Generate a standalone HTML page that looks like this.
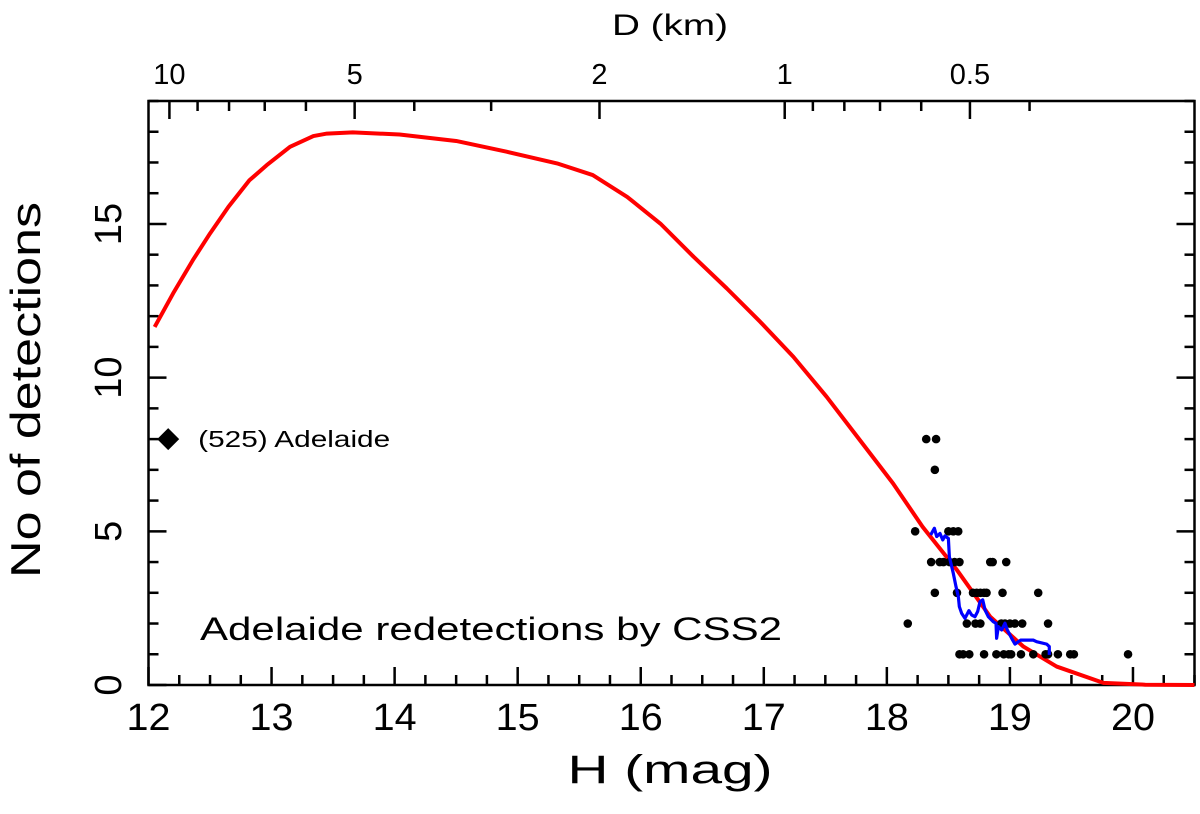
<!DOCTYPE html>
<html><head><meta charset="utf-8"><style>
html,body{margin:0;padding:0;background:#fff;}
svg{display:block;font-family:"Liberation Sans",sans-serif;}
</style></head><body>
<svg id="chart" width="1200" height="814" viewBox="0 0 1200 814" xmlns="http://www.w3.org/2000/svg">
<g id="axes"></g>
<g id="marks"></g>
</svg>
<script>
const xTicksMajor = [12,13,14,15,16,17,18,19,20];
const yTicksMajor = [0,5,10,15];
const dTickLabels = [10,5,2,1,0.5];
const dMinor = [9,8,7,6,4,3,0.9,0.8,0.7,0.6,0.4];
const curveH = [12.05,12.20,12.36,12.50,12.65,12.82,12.96,13.15,13.34,13.45,13.66,14.04,14.50,14.91,15.32,15.61,15.89,16.16,16.43,16.70,16.97,17.24,17.51,17.78,18.05,18.29,18.57,18.84,19.11,19.38,19.76,20.1,20.5];
const curveV = [11.65,12.74,13.82,14.69,15.56,16.42,16.91,17.51,17.86,17.94,17.98,17.91,17.70,17.35,16.97,16.59,15.88,15.01,13.93,12.90,11.82,10.68,9.38,7.97,6.56,5.15,3.74,2.22,1.25,0.60,0.07,0.01,0];
const runH = [18.356,18.386,18.405,18.432,18.454,18.472,18.500,18.508,18.540,18.562,18.581,18.589,18.608,18.635,18.667,18.689,18.716,18.738,18.757,18.779,18.798,18.825,18.865,18.887,18.892,18.906,18.933,18.960,18.979,19.014,19.041,19.087,19.104,19.190,19.217,19.299,19.320,19.320];
const runV = [4.88,5.10,4.83,4.93,4.72,4.85,4.77,4.17,3.63,3.20,2.87,2.55,2.33,2.17,2.42,2.28,2.22,2.39,2.71,2.77,2.44,2.22,2.06,2.01,1.52,1.90,1.79,2.01,1.79,1.52,1.33,1.46,1.46,1.46,1.41,1.33,1.25,0.98];
const ptH = [18.32,18.40,18.39,18.23,18.50,18.54,18.58,18.36,18.43,18.46,18.51,18.55,18.59,18.84,18.86,18.97,18.39,18.57,18.70,18.73,18.76,18.79,18.81,18.94,19.23,18.17,18.65,18.72,18.76,18.93,18.96,19.00,19.04,19.10,19.31,18.59,18.62,18.67,18.79,18.89,18.95,18.99,19.01,19.09,19.19,19.29,19.31,19.39,19.49,19.52,19.96];
const ptV = [8,8,7,5,5,5,5,4,4,4,4,4,4,4,4,4,3,3,3,3,3,3,3,3,3,2,2,2,2,2,2,2,2,2,2,1,1,1,1,1,1,1,1,1,1,1,1,1,1,1,1];
const adelaideH = [12.16];
const adelaideV = [8];

const L=148.5,R=1194.5,T=101,B=685,H0=12,H1=20.5,V0=0,V1=19;
const sx=h=>L+(h-H0)/(H1-H0)*(R-L);
const sy=v=>B-(v-V0)/(V1-V0)*(B-T);
const dToH=d=>12.17+5*Math.log10(10/d);
const NS="http://www.w3.org/2000/svg";
function mk(tag,parent,attrs){const e=document.createElementNS(NS,tag);for(const k in attrs)e.setAttribute(k,attrs[k]);parent.appendChild(e);return e;}
const ax=document.getElementById('axes'), mg=document.getElementById('marks');

let frame=mk('rect',ax,{x:L,y:T,width:R-L,height:B-T,fill:'none',stroke:'#000','stroke-width':2.5});



for(let t=12;t<=20.5001;t+=0.25){
  const maj=Math.abs(t-Math.round(t))<1e-6;
  const x=sx(t);
  const len=maj?18:10;
  const tk=mk('line',ax,{x1:x,x2:x,y1:B,y2:B-len,stroke:'#000','stroke-width':2.5});
  
  
}
xTicksMajor.forEach(t=>{
  const tx=mk('text',ax,{x:sx(t),y:730,'text-anchor':'middle','font-size':38,textLength:44,lengthAdjust:'spacingAndGlyphs'});
  tx.textContent=t;
  
  
});
for(let v=0;v<=19;v++){
  const maj=v%5===0;
  const y=sy(v);
  const a=mk('line',ax,{x1:L,x2:L+(maj?18:10),y1:y,y2:y,stroke:'#000','stroke-width':2.5});
  
  
  const b=mk('line',ax,{x1:R,x2:R-(maj?18:10),y1:y,y2:y,stroke:'#000','stroke-width':2.5});
  
  
}
yTicksMajor.forEach(v=>{
  const y=sy(v);
  const tx=mk('text',ax,{x:0,y:0,'text-anchor':'middle','font-size':38,transform:`translate(121,${y}) rotate(-90)`});
  tx.textContent=v;
  
  
});
dTickLabels.forEach(d=>{
  const x=sx(dToH(d));
  const tk=mk('line',ax,{x1:x,x2:x,y1:T,y2:T+18,stroke:'#000','stroke-width':2.5});
  
  
  const tx=mk('text',ax,{x:x,y:84,'text-anchor':'middle','font-size':29});
  tx.textContent=d;
  
  
});
dMinor.forEach(d=>{
  const x=sx(dToH(d));
  if(x>R)return;
  const tk=mk('line',ax,{x1:x,x2:x,y1:T,y2:T+10,stroke:'#000','stroke-width':2.5});
  
  
});
let xt=mk('text',ax,{x:670,y:783,'text-anchor':'middle','font-size':40,textLength:205,lengthAdjust:'spacingAndGlyphs'});
xt.textContent='H (mag)';


let tt=mk('text',ax,{x:670,y:35,'text-anchor':'middle','font-size':30,textLength:116,lengthAdjust:'spacingAndGlyphs'});
tt.textContent='D (km)';


let yt=mk('text',ax,{x:0,y:0,'text-anchor':'middle','font-size':42,textLength:376,lengthAdjust:'spacingAndGlyphs',transform:'translate(40,390) rotate(-90)'});
yt.textContent='No of detections';


let ann=mk('text',ax,{x:200,y:640,'font-size':32,textLength:582,lengthAdjust:'spacingAndGlyphs'});
ann.textContent='Adelaide redetections by CSS2';



let cp=mk('polyline',mg,{points:curveH.map((h,i)=>sx(h)+','+sy(curveV[i])).join(' '),fill:'none',stroke:'#ff0000','stroke-width':4,'stroke-linejoin':'round'});


ptH.forEach((h,i)=>{
  const c=mk('circle',mg,{cx:sx(h),cy:sy(ptV[i]),r:4.3,fill:'#000'});
  
  
});
let bp=mk('polyline',mg,{points:runH.map((h,i)=>sx(h)+','+sy(runV[i])).join(' '),fill:'none',stroke:'#0000ff','stroke-width':3.2,'stroke-linejoin':'round'});


adelaideH.forEach((h,i)=>{
  const x=sx(h),y=sy(adelaideV[i]);
  const d=mk('polygon',mg,{points:`${x},${y-11} ${x+11},${y} ${x},${y+11} ${x-11},${y}`,fill:'#000'});
  
  
  const t=mk('text',mg,{x:x+30,y:y+8,'font-size':23,textLength:192,lengthAdjust:'spacingAndGlyphs'});
  t.textContent='(525) Adelaide';
  
  
});
</script>
</body></html>
